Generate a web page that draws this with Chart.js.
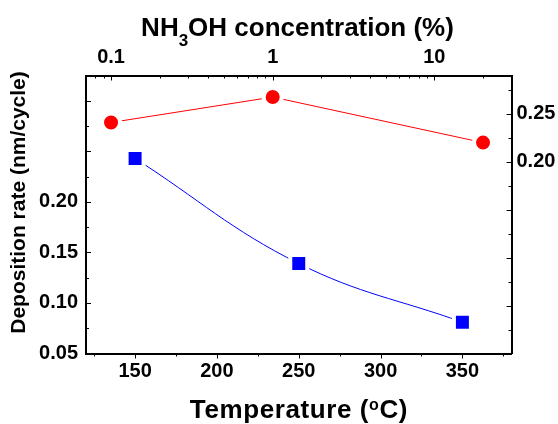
<!DOCTYPE html>
<html>
<head>
<meta charset="utf-8">
<script src="https://cdn.jsdelivr.net/npm/chart.js"></script>
<style>
body { margin: 0; background: #fff; }
canvas { display: block; }
</style>
</head>
<body>
<canvas id="grafica" width="558" height="424"></canvas>
<script>
// datos
const temperature = [150, 250, 350];
const rateByTemperature = [0.243, 0.139, 0.081];

const concentration = [0.1, 1, 20];
const rateByConcentration = [0.241, 0.2675, 0.220];

const temperatureTicks = [150, 200, 250, 300, 350];
const concentrationTicks = [0.1, 1, 10];
const leftTicks = [0.05, 0.10, 0.15, 0.20];
const rightTicks = [0.20, 0.25];

const FONT = "'Liberation Sans', Arial, sans-serif";
const tickFont = { family: FONT, size: 20, weight: 'bold' };


// marcas de los ejes (hacia dentro, abajo hacia fuera)
const tickMarks = {
  id: 'tickMarks',
  afterDraw(chart) {
    const ctx = chart.ctx;
    const a = chart.chartArea;
    const s = chart.scales;
    ctx.save();
    ctx.strokeStyle = '#000';
    ctx.lineWidth = 1;
    ctx.beginPath();
    // abajo
    for (let v = 125; v <= 375; v += 25) {
      const x = Math.round(s.x.getPixelForValue(v)) + 0.5;
      const len = v % 50 === 0 ? 5 : 3;
      ctx.moveTo(x, a.bottom);
      ctx.lineTo(x, a.bottom + len);
    }
    // izquierda
    for (let i = 0; i <= 11; i++) {
      const v = 0.05 + i * 0.025;
      const y = Math.round(s.y.getPixelForValue(v)) + 0.5;
      const len = i % 2 === 0 ? 5 : 3;
      ctx.moveTo(a.left, y);
      ctx.lineTo(a.left + len, y);
    }
    // derecha
    for (let i = 0; i <= 11; i++) {
      const v = i * 0.025;
      const y = Math.round(s.y2.getPixelForValue(v)) + 0.5;
      const len = i % 2 === 0 ? 5 : 3;
      ctx.moveTo(a.right, y);
      ctx.lineTo(a.right - len, y);
    }
    // arriba (log)
    [0.01, 0.1, 1, 10].forEach(function (d) {
      for (let k = 1; k <= 9; k++) {
        const v = k * d;
        if (v < s.x2.min || v > s.x2.max) continue;
        const x = Math.round(s.x2.getPixelForValue(v)) + 0.5;
        const len = k === 1 ? 5 : 3;
        ctx.moveTo(x, a.top);
        ctx.lineTo(x, a.top + len);
      }
    });
    ctx.stroke();
    ctx.restore();
  }
};


// titulos con subindice / superindice
function drawRuns(ctx, runs, cx, baseline) {
  let total = 0;
  runs.forEach(function (r) {
    ctx.font = 'bold ' + r.size + 'px ' + FONT;
    r.w = ctx.measureText(r.t).width;
    total += r.w;
  });
  let x = cx - total / 2;
  runs.forEach(function (r) {
    ctx.font = 'bold ' + r.size + 'px ' + FONT;
    ctx.fillText(r.t, x, baseline + (r.dy || 0));
    x += r.w;
  });
}

const axisTitles = {
  id: 'axisTitles',
  afterDraw(chart) {
    const ctx = chart.ctx;
    ctx.save();
    ctx.fillStyle = '#000';
    ctx.textAlign = 'left';
    ctx.textBaseline = 'alphabetic';

    drawRuns(ctx, [
      { t: 'NH', size: 26 },
      { t: '3', size: 17, dy: 10 },
      { t: 'OH concentration (%)', size: 26 }
    ], 297.5, 35.5);

    ctx.letterSpacing = '0.6px';
    drawRuns(ctx, [
      { t: 'Temperature (', size: 26 },
      { t: 'o', size: 16, dy: -8 },
      { t: 'C)', size: 26 }
    ], 299, 418);
    ctx.letterSpacing = '0px';

    ctx.translate(25, 202.5);
    ctx.rotate(-Math.PI / 2);
    drawRuns(ctx, [{ t: 'Deposition rate (nm/cycle)', size: 21 }], 0, 0);
    ctx.restore();
  }
};


function fixedSize(prop, value) {
  return function (scale) { scale[prop] = value; };
}

function setTicks(values) {
  return function (scale) {
    scale.ticks = values.map(function (v) { return { value: v }; });
  };
}

const axisBorder = { display: true, color: '#000', width: 2 };
const noGrid = { display: false, drawTicks: false };


new Chart(document.getElementById('grafica'), {
  type: 'scatter',
  data: {
    datasets: [
      {
        label: 'Temperature',
        data: temperature.map(function (t, i) { return { x: t, y: rateByTemperature[i] }; }),
        xAxisID: 'x',
        yAxisID: 'y',
        showLine: true,
        tension: 0.4,
        borderColor: '#0000ff',
        borderWidth: 1,
        pointStyle: 'rect',
        pointRadius: 12,
        pointHoverRadius: 12,
        pointBackgroundColor: '#0000ff',
        pointBorderColor: '#ffffff',
        pointBorderWidth: 4
      },
      {
        label: 'NH3OH',
        data: concentration.map(function (c, i) { return { x: c, y: rateByConcentration[i] }; }),
        xAxisID: 'x2',
        yAxisID: 'y2',
        showLine: true,
        tension: 0,
        borderColor: '#ff0000',
        borderWidth: 1,
        pointStyle: 'circle',
        pointRadius: 9,
        pointHoverRadius: 9,
        pointBackgroundColor: '#ff0000',
        pointBorderColor: '#ffffff',
        pointBorderWidth: 4
      }
    ]
  },
  options: {
    responsive: false,
    devicePixelRatio: 1,
    animation: false,
    events: [],
    layout: { padding: 0 },
    plugins: {
      legend: { display: false },
      tooltip: { enabled: false }
    },
    scales: {
      x: {
        type: 'linear',
        position: 'bottom',
        min: 120,
        max: 380,
        grid: noGrid,
        border: axisBorder,
        afterBuildTicks: setTicks(temperatureTicks),
        afterFit: fixedSize('height', 70.5),
        ticks: { font: tickFont, color: '#000', padding: 6, maxRotation: 0, autoSkip: false }
      },
      x2: {
        type: 'logarithmic',
        position: 'top',
        min: 0.07,
        max: 30,
        grid: noGrid,
        border: axisBorder,
        afterBuildTicks: setTicks(concentrationTicks),
        afterFit: fixedSize('height', 75.5),
        ticks: {
          font: tickFont, color: '#000', padding: 6, maxRotation: 0, autoSkip: false,
          callback: function (v) { return String(v); }
        }
      },
      y: {
        type: 'linear',
        position: 'left',
        min: 0.05,
        max: 0.325,
        grid: noGrid,
        border: axisBorder,
        afterBuildTicks: setTicks(leftTicks),
        afterFit: fixedSize('width', 86),
        ticks: {
          font: tickFont, color: '#000', padding: 8, autoSkip: false,
          callback: function (v) { return v.toFixed(2); }
        }
      },
      y2: {
        type: 'linear',
        position: 'right',
        min: 0,
        max: 0.29,
        grid: noGrid,
        border: axisBorder,
        afterBuildTicks: setTicks(rightTicks),
        afterFit: fixedSize('width', 46.5),
        ticks: {
          font: tickFont, color: '#000', padding: 5, autoSkip: false,
          callback: function (v) { return v.toFixed(2); }
        }
      }
    }
  },
  plugins: [tickMarks, axisTitles]
});
</script>
</body>
</html>
